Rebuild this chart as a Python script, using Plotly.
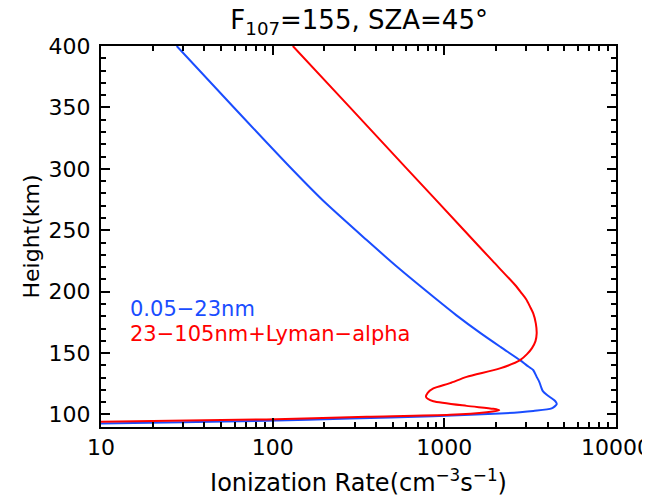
import plotly.graph_objects as go

# Blue: 0.05-23nm (height km, ionization rate cm^-3 s^-1)
blue_h = [92.7, 93.7, 94.8, 96.7, 98.6, 100.8, 101.9, 102.9, 104.9, 108.4, 110.5, 112.2, 116.0, 119.2, 122.5, 126.6, 131.0, 136.0, 140.0, 144.2, 154.8, 166.0, 180.9, 195.8, 219.2, 242.0, 274.6, 299.0, 349.5, 400.0]
blue_v = [10, 30, 92, 282, 859, 2108, 2761, 3300, 4220, 4517, 4450, 4313, 3950, 3740, 3660, 3573, 3440, 3300, 3020, 2761, 2133, 1633, 1172, 863, 541, 353, 195, 131, 59.8, 27.6]

# Red: 23-105nm + Lyman-alpha
red_h = [94.0, 96.0, 98.1, 99.7, 101.9, 103.5, 104.6, 107.0, 110.8, 112.8, 114.3, 117.6, 121.2, 125.5, 130.6, 137.5, 144.2, 149.1, 154.0, 159.7, 166.0, 174.2, 182.3, 187.8, 193.6, 198.8, 204.0, 225.0, 250.0, 300.0, 350.0, 400.0]
red_v = [10, 92, 353, 1080, 1767, 2089, 1928, 1349, 863, 800, 782, 800, 863, 1080, 1349, 2108, 2761, 3031, 3240, 3396, 3451, 3411, 3296, 3155, 3003, 2815, 2637, 1910, 1303, 606, 282, 131]

x_tickvals = [10, 100, 1000, 10000]
x_ticktext = ["10", "100", "1000", "10000"]
y_tickvals = [100, 150, 200, 250, 300, 350, 400]

BLUE = "#1a4dff"
RED = "#ff0000"
FONT = "DejaVu Sans"

fig = go.Figure()
fig.add_trace(go.Scatter(x=blue_v, y=blue_h, mode="lines",
                         line=dict(color=BLUE, width=2, shape="spline", smoothing=0.7),
                         showlegend=False, hoverinfo="skip"))
fig.add_trace(go.Scatter(x=red_v, y=red_h, mode="lines",
                         line=dict(color=RED, width=2, shape="spline", smoothing=0.7),
                         showlegend=False, hoverinfo="skip"))

fig.add_annotation(x=1.158, y=185.5, xref="x", yref="y", text="0.05−23nm",
                   showarrow=False, xanchor="left", yanchor="middle",
                   font=dict(family=FONT, size=21, color=BLUE))
fig.add_annotation(x=1.158, y=165.5, xref="x", yref="y", text="23−105nm+Lyman−alpha",
                   showarrow=False, xanchor="left", yanchor="middle",
                   font=dict(family=FONT, size=21, color=RED))

# page body has an 8px margin, so the figure is 8px smaller and margins shifted
fig.update_layout(
    width=642, height=489,
    margin=dict(l=93, r=34, t=38, b=70),
    paper_bgcolor="white", plot_bgcolor="white",
    font=dict(family=FONT, color="black", size=22),
    title=dict(text="F<sub>107</sub>=155, SZA=45°", x=0.547, xanchor="center",
               y=0.975, yanchor="middle", font=dict(family=FONT, size=26, color="black")),
)
fig.update_xaxes(type="log", range=[1, 4], tickvals=x_tickvals, ticktext=x_ticktext,
                 ticks="inside", ticklen=9, tickwidth=1.5, tickcolor="black",
                 showline=True, linecolor="black", linewidth=2, mirror="ticks",
                 showgrid=False, zeroline=False, automargin=False,
                 ticklabeloverflow="allow",
                 minor=dict(ticks="inside", ticklen=5, tickwidth=1.5, tickcolor="black",
                            dtick="D1", showgrid=False),
                 tickfont=dict(family=FONT, size=22),
                 title=dict(text="Ionization Rate(cm<sup>−3</sup>s<sup>−1</sup>)",
                            font=dict(family=FONT, size=24), standoff=15))
fig.update_yaxes(range=[89.8, 400], tickvals=y_tickvals,
                 ticks="inside", ticklen=9, tickwidth=1.5, tickcolor="black",
                 showline=True, linecolor="black", linewidth=2, mirror="ticks",
                 showgrid=False, zeroline=False, automargin=False,
                 ticklabelstandoff=4, ticklabeloverflow="allow",
                 minor=dict(ticks="inside", ticklen=5, tickwidth=1.5, tickcolor="black",
                            dtick=10, showgrid=False),
                 tickfont=dict(family=FONT, size=22),
                 title=dict(text="Height(km)", font=dict(family=FONT, size=22), standoff=3))

fig.write_html("out.html")
